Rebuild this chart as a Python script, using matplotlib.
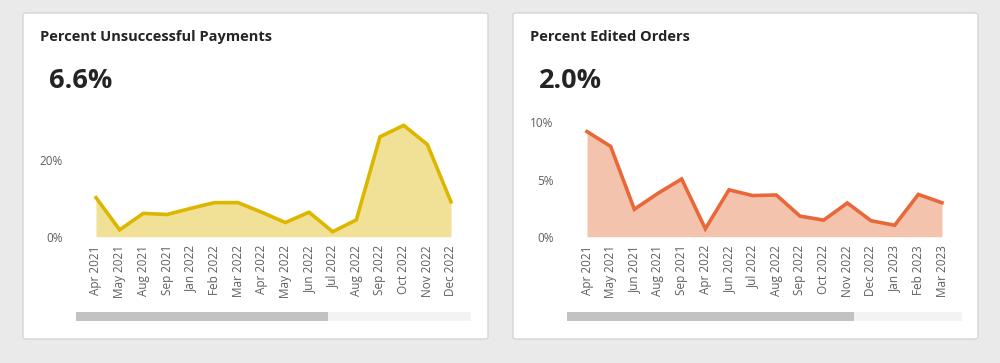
import numpy as np
import matplotlib.pyplot as plt
from matplotlib.patches import FancyBboxPatch, Rectangle
from matplotlib.ticker import FuncFormatter

# dados
meses_pag = ['Apr 2021', 'May 2021', 'Aug 2021', 'Sep 2021', 'Jan 2022', 'Feb 2022',
             'Mar 2022', 'Apr 2022', 'May 2022', 'Jun 2022', 'Jul 2022', 'Aug 2022',
             'Sep 2022', 'Oct 2022', 'Nov 2022', 'Dec 2022']
pct_pag = [10.2, 1.8, 6.1, 5.8, 7.4, 8.9, 8.9, 6.4, 3.7, 6.4, 1.3, 4.4,
           26.1, 29.1, 24.1, 9.1]

meses_ped = ['Apr 2021', 'May 2021', 'Jun 2021', 'Aug 2021', 'Sep 2021', 'Apr 2022',
             'Jun 2022', 'Jul 2022', 'Aug 2022', 'Sep 2022', 'Oct 2022', 'Nov 2022',
             'Dec 2022', 'Jan 2023', 'Feb 2023', 'Mar 2023']
pct_ped = [9.2, 7.9, 2.4, 3.8, 5.05, 0.7, 4.1, 3.6, 3.65, 1.8, 1.45, 2.95,
           1.4, 1.0, 3.7, 2.97]

titulos = ['Percent Unsuccessful Payments', 'Percent Edited Orders']
valores = ['6.6%', '2.0%']

W, H = 1000, 363
fig = plt.figure(figsize=(W / 100, H / 100), dpi=100)
fig.patch.set_facecolor('#EAEAEA')
plt.rcParams['font.family'] = ['Open Sans', 'DejaVu Sans']


def px(x, y):
    # converte pixels (origem no topo) para fração da figura
    return x / W, 1 - y / H


def cartao(x0, x1, y0, y1):
    a, b = px(x0, y1)
    c = FancyBboxPatch((a, b), (x1 - x0) / W, (y1 - y0) / H,
                       boxstyle='round,pad=0,rounding_size=0.004',
                       transform=fig.transFigure, facecolor='white',
                       edgecolor='#D6D6D6', linewidth=1.0, zorder=-5)
    fig.patches.append(c)


def barra(x0, x1, xm, y0, y1):
    a, b = px(x0, y1)
    fig.patches.append(Rectangle((a, b), (x1 - x0) / W, (y1 - y0) / H,
                                 transform=fig.transFigure, color='#F3F3F3', lw=0))
    fig.patches.append(Rectangle((a, b), (xm - x0) / W, (y1 - y0) / H,
                                 transform=fig.transFigure, color='#C2C2C2', lw=0))


def grafico(x_esq, meses, pct, ymax, ticks, cor_linha, cor_area):
    y_zero, y_topo = 236.7, 115
    ax = fig.add_axes([x_esq / W, 1 - y_zero / H, 355 / W, (y_zero - y_topo) / H])
    ax.set_facecolor('none')
    x = np.arange(len(meses))
    ax.fill_between(x, pct, 0, color=cor_area, lw=0)
    ax.plot(x, pct, color=cor_linha, lw=2.6, solid_joinstyle='miter', clip_on=False)
    ax.set_xlim(0, len(meses) - 1)
    ax.set_ylim(0, ymax)
    ax.set_xticks(x)
    ax.set_xticklabels(meses, rotation=90, fontsize=8.5, color='#605E5C')
    ax.set_yticks(ticks)
    ax.yaxis.set_major_formatter(FuncFormatter(lambda v, p: '%d%%' % v))
    ax.tick_params(axis='y', length=0, pad=24, labelsize=8.5, labelcolor='#605E5C')
    ax.tick_params(axis='x', length=0, pad=6)
    for s in ax.spines.values():
        s.set_visible(False)
    return ax


cartao(23, 488, 13, 339)
cartao(513, 978, 13, 339)

fig.text(*px(40, 41), titulos[0], fontsize=10.5, fontweight='bold', color='#252423')
fig.text(*px(530, 41), titulos[1], fontsize=10.5, fontweight='bold', color='#252423')
fig.text(*px(49, 88), valores[0], fontsize=19.5, fontweight='bold', color='#252423')
fig.text(*px(539, 88), valores[1], fontsize=19.5, fontweight='bold', color='#252423')

grafico(96, meses_pag, pct_pag, 31.8, [0, 20], '#DDB600', '#F0E196')
grafico(587, meses_ped, pct_ped, 10.65, [0, 5, 10], '#E8683A', '#F4C3AD')

barra(76, 471, 328, 312, 320.5)
barra(567, 962, 854, 312, 320.5)

fig.savefig('out.png', dpi=100, facecolor=fig.get_facecolor())
